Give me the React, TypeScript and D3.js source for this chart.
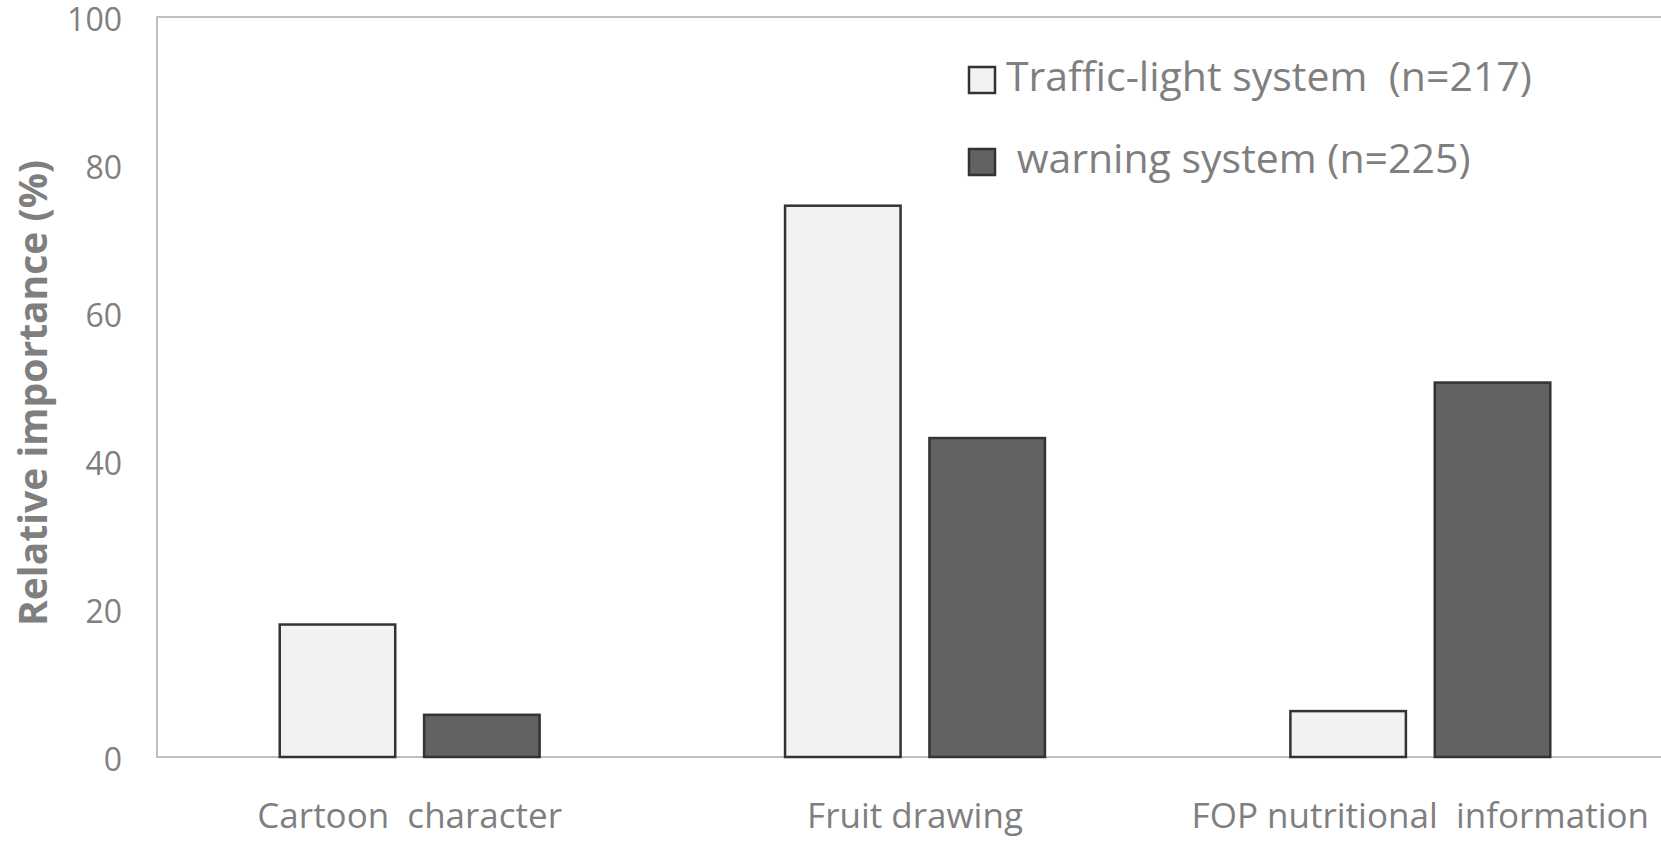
import * as React from 'react';
import * as d3 from 'd3';

const categories = ['Cartoon  character', 'Fruit drawing', 'FOP nutritional  information'];
const seriesNames = ['Traffic-light system  (n=217)', ' warning system (n=225)'];
const trafficLight = [17.9, 74.5, 6.2];
const warning = [5.7, 43.1, 50.6];
const yTicks = [0, 20, 40, 60, 80, 100];

const fills = ['#f2f2f4', '#626264'];
const textColor = '#7f7f7f';
const font = '"Open Sans", Lato, sans-serif';

const W = 1661;
const H = 842;
const left = 157;
const top = 17;
const bottom = 757;
const right = 1673;

const App = () => {
	const x0 = d3.scaleBand<string>().domain(categories).range([left, right]).padding(0);
	const x1 = d3
		.scaleBand<number>()
		.domain([0, 1])
		.range([0, x0.bandwidth()])
		.paddingInner(0.2)
		.paddingOuter(0.85);
	const y = d3.scaleLinear().domain([0, 100]).range([bottom, top]);

	const series = [trafficLight, warning];

	return (
		<svg
			width={W}
			height={H}
			style={{ position: 'absolute', left: 0, top: 0, background: '#fff' }}
			fontFamily={font}
		>
			{/* plot frame */}
			<path
				d={`M${right},${top}H${left}V${bottom}H${right}`}
				fill='none'
				stroke='#bfbfbf'
				strokeWidth={2}
			/>

			{yTicks.map(t => (
				<text
					key={t}
					x={122}
					y={y(t) + 5}
					textAnchor='end'
					dominantBaseline='middle'
					fontSize={32}
					fill={textColor}
				>
					{t}
				</text>
			))}

			<text
				transform={`translate(37 ${(top + bottom) / 2 + 6}) rotate(-90)`}
				textAnchor='middle'
				dominantBaseline='middle'
				fontSize={39}
				fontWeight='bold'
				fill={textColor}
			>
				Relative importance (%)
			</text>

			{categories.map((c, ci) => (
				<g key={c} transform={`translate(${x0(c)} 0)`}>
					{series.map((s, si) => (
						<rect
							key={si}
							x={x1(si)}
							y={y(s[ci])}
							width={x1.bandwidth()}
							height={bottom - y(s[ci])}
							fill={fills[si]}
							stroke='#333'
							strokeWidth={2.5}
						/>
					))}
					<text
						x={x1(0)! + (x1(1)! + x1.bandwidth() - x1(0)!) / 2}
						y={819}
						textAnchor='middle'
						dominantBaseline='middle'
						fontSize={35}
						fill={textColor}
						style={{ whiteSpace: 'pre' }}
					>
						{c}
					</text>
				</g>
			))}

			{seriesNames.map((n, i) => (
				<g key={n} transform={`translate(968 ${66 + i * 82})`}>
					<rect x={1} y={1} width={26} height={26} fill={fills[i]} stroke='#333' strokeWidth={2.5} />
					<text
						x={38}
						y={14}
						dominantBaseline='middle'
						fontSize={41}
						fill={textColor}
						style={{ whiteSpace: 'pre' }}
					>
						{n}
					</text>
				</g>
			))}
		</svg>
	);
};

export default App;
